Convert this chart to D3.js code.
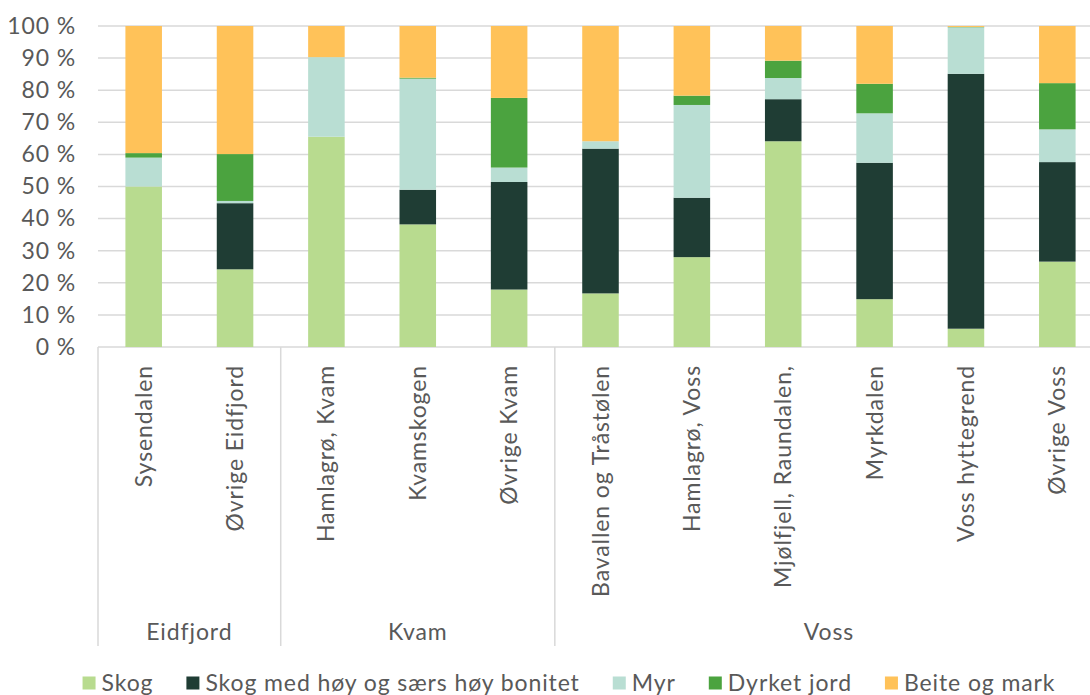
<!DOCTYPE html>
<html>
<head>
<meta charset="utf-8">
<script src="https://cdn.jsdelivr.net/npm/d3@7"></script>
<style>
  html, body { margin: 0; padding: 0; background: #fff; }
  svg { display: block; font-family: Lato, "Open Sans", sans-serif; }
  text { letter-spacing: 0.9px; }
</style>
</head>
<body>
<svg id="chart" width="1090" height="695"></svg>
<script>
const categories = ["Sysendalen", "Øvrige Eidfjord", "Hamlagrø, Kvam", "Kvamskogen", "Øvrige Kvam",
  "Bavallen og Tråstølen", "Hamlagrø, Voss", "Mjølfjell, Raundalen,", "Myrkdalen", "Voss hyttegrend", "Øvrige Voss"];
const groups = ["Eidfjord", "Eidfjord", "Kvam", "Kvam", "Kvam", "Voss", "Voss", "Voss", "Voss", "Voss", "Voss"];
const seriesNames = ["Skog", "Skog med høy og særs høy bonitet", "Myr", "Dyrket jord", "Beite og mark"];
const skog    = [50.0, 24.2, 65.5, 38.2, 17.9, 16.7, 28.0, 64.1, 14.9, 5.7, 26.6];
const skogHoy = [0.0, 20.6, 0.0, 10.8, 33.5, 45.1, 18.5, 13.1, 42.5, 79.4, 31.0];
const myr     = [9.0, 0.7, 24.8, 34.6, 4.5, 2.3, 28.9, 6.6, 15.4, 14.5, 10.2];
const dyrket  = [1.4, 14.6, 0.0, 0.3, 21.7, 0.0, 2.9, 5.4, 9.2, 0.1, 14.4];
const beite   = [39.6, 39.9, 9.7, 16.1, 22.4, 35.9, 21.7, 10.8, 18.0, 0.3, 17.8];
const yTicks  = [0, 10, 20, 30, 40, 50, 60, 70, 80, 90, 100];
const colors  = ["#B8DB8F", "#1F3D34", "#B9DED3", "#4BA33F", "#FFC259"];

const seriesValues = [skog, skogHoy, myr, dyrket, beite];
const table = categories.map((c, i) => {
  const row = { cat: c, group: groups[i] };
  seriesNames.forEach((s, k) => row[s] = seriesValues[k][i]);
  return row;
});

const svg = d3.select("#chart");
const textColor = "#595959";
const gridColor = "#D9D9D9";
const fs = 23;

const x = d3.scaleBand().domain(categories).range([98, 1103]).paddingInner(0.6).paddingOuter(0.3);
const y = d3.scaleLinear().domain([0, 100]).range([347, 26]);

// gridlines
svg.append("g").selectAll("line").data(yTicks).join("line")
  .attr("x1", 98).attr("x2", 1103)
  .attr("y1", d => y(d)).attr("y2", d => y(d))
  .attr("stroke", gridColor).attr("stroke-width", 1.5);

// y axis labels
const yAxis = d3.axisLeft(y).tickValues(yTicks).tickSize(0).tickPadding(0).tickFormat(d => d + " %");
const ya = svg.append("g").attr("transform", "translate(76,0)").call(yAxis);
ya.select(".domain").remove();
ya.selectAll("text").attr("fill", textColor).style("font-size", fs + "px").style("font-family", "Lato, sans-serif");

// stacked bars
const stack = d3.stack().keys(seriesNames);
const stacked = stack(table);
svg.append("g").selectAll("g").data(stacked).join("g")
  .attr("fill", (d, i) => colors[i])
  .selectAll("rect").data(d => d).join("rect")
  .attr("x", d => x(d.data.cat))
  .attr("width", x.bandwidth())
  .attr("y", d => y(d[1]))
  .attr("height", d => Math.max(0, y(d[0]) - y(d[1])));

// category labels
const step = x.step();
svg.append("g").selectAll("text").data(categories).join("text")
  .attr("transform", d => `translate(${x(d) + x.bandwidth() / 2},365) rotate(-90)`)
  .attr("text-anchor", "end")
  .attr("dy", "0.35em")
  .attr("fill", textColor)
  .style("font-size", fs + "px")
  .text(d => d);

// group separators and labels
const groupNames = Array.from(new Set(groups));
const groupInfo = groupNames.map(g => {
  const idx = groups.map((v, i) => v === g ? i : -1).filter(i => i >= 0);
  const x0 = x(categories[idx[0]]) - step * 0.3;
  const x1 = x(categories[idx[idx.length - 1]]) + x.bandwidth() + step * 0.3;
  return { g, x0, x1 };
});
svg.append("g").selectAll("line").data(groupInfo).join("line")
  .attr("x1", d => d.x0).attr("x2", d => d.x0)
  .attr("y1", 347).attr("y2", 646)
  .attr("stroke", gridColor).attr("stroke-width", 1.5);
svg.append("g").selectAll("text").data(groupInfo).join("text")
  .attr("x", d => (d.x0 + d.x1) / 2).attr("y", 632)
  .attr("dy", "0.35em")
  .attr("text-anchor", "middle")
  .attr("fill", textColor)
  .style("font-size", fs + "px")
  .text(d => d.g);

// legend
const legend = svg.append("g");
const items = legend.selectAll("g").data(seriesNames).join("g");
items.append("rect").attr("width", 13).attr("height", 13).attr("y", -6.5).attr("fill", (d, i) => colors[i]);
items.append("text").attr("x", 19).attr("dy", "0.35em").attr("fill", textColor)
  .style("font-size", fs + "px").text(d => d);
let pos = 0;
const offs = [];
items.each(function () {
  const w = d3.select(this).select("text").node().getComputedTextLength();
  offs.push(pos);
  pos += 19 + w + 33;
});
const total = pos - 33;
const startX = 569 - total / 2;
items.attr("transform", (d, i) => `translate(${startX + offs[i]},683)`);
</script>
</body>
</html>
